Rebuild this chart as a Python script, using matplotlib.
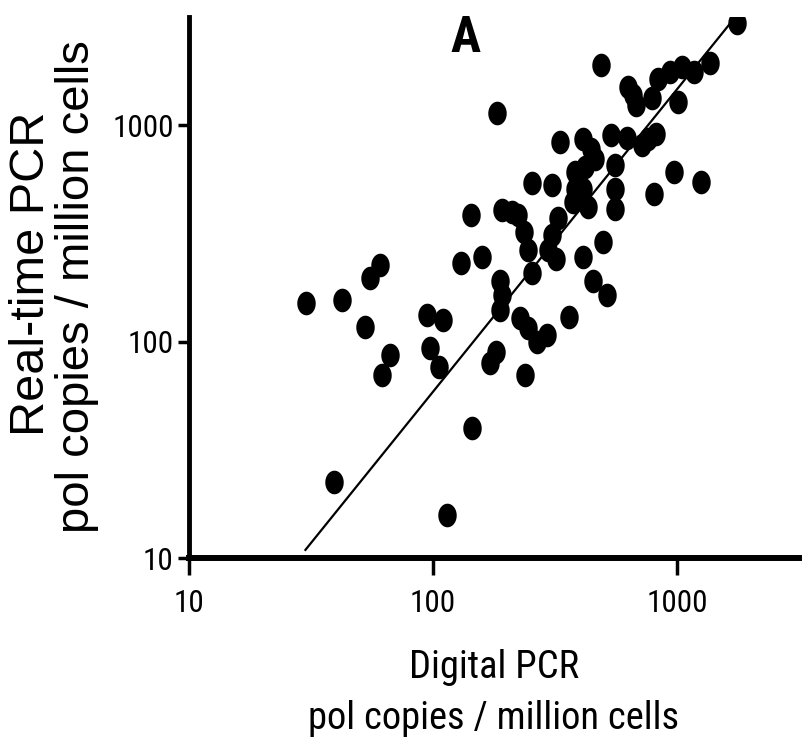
import numpy as np
import matplotlib
matplotlib.use("Agg")
from matplotlib import pyplot as plt
from matplotlib import font_manager
from matplotlib.ticker import NullLocator

# Digital PCR (x) vs real-time PCR (y), pol copies / million cells
dpcr = [1760, 488, 183, 632, 681, 660, 836, 935, 1045, 1170, 1360, 1007, 791,
        535, 621, 721, 821, 760, 330, 412, 444, 461, 383, 383, 375, 420, 412,
        430, 555, 555, 555, 254, 306, 971, 1259, 806, 143, 192, 210, 223, 236,
        245, 254, 324, 306, 296, 497, 130, 159, 318, 412, 188, 192, 188, 451,
        515, 30.1, 42.4, 55, 60.5, 52.5, 66.4, 61.6, 94.6, 110, 97, 106, 227,
        245, 268, 294, 361, 181, 172, 238, 144, 39.4, 114]
rtpcr = [2960, 1890, 1140, 1500, 1240, 1380, 1640, 1760, 1860, 1760, 1930, 1280,
         1330, 900, 870, 810, 915, 860, 837, 867, 780, 700, 608, 509, 443, 640,
         509, 420, 653, 509, 412, 538, 532, 608, 547, 483, 384, 405, 395, 384,
         321, 265, 207, 371, 310, 265, 289, 232, 247, 242, 245, 190, 164, 140,
         190, 164, 150, 156, 196, 226, 117, 86.7, 70.2, 133, 126, 93, 76.7, 128,
         115, 100, 107, 130, 90, 79.4, 70.2, 39.8, 22.5, 15.8]

# regression line end points
fit_x = [30, 1670]
fit_y = [10.9, 3000]

tick_vals = [10, 100, 1000]
tick_text = ["10", "100", "1000"]

names = {f.name for f in font_manager.fontManager.ttflist}
narrow = "Liberation Sans"
for cand in ["Liberation Sans Narrow", "Roboto Condensed", "Open Sans Condensed",
             "Noto Sans Condensed"]:
    if cand in names:
        narrow = cand
        break
plt.rcParams["font.family"] = ["Liberation Sans", "DejaVu Sans"]

W, H = 802, 737
fig = plt.figure(figsize=(W / 100, H / 100), dpi=100)
ax = fig.add_axes([189 / W, 1 - 558 / H, 610 / W, 541 / H])

# slightly tall ellipse marker, like the scanned dots
t = np.linspace(0, 2 * np.pi, 40)
dot = np.column_stack([0.78 * np.cos(t), np.sin(t)])

ax.plot(fit_x, fit_y, color="black", lw=1.6, zorder=2)
ax.scatter(dpcr, rtpcr, s=290, marker=dot, color="black", linewidths=0, zorder=3)

ax.set_xscale("log")
ax.set_yscale("log")
ax.set_xlim(10, 10 ** 3.5)
ax.set_ylim(10, 10 ** 3.5)
ax.xaxis.set_minor_locator(NullLocator())
ax.yaxis.set_minor_locator(NullLocator())

ax.set_xticks(tick_vals)
ax.set_xticklabels(tick_text)
ax.set_yticks(tick_vals)
ax.set_yticklabels(tick_text)

ax.tick_params(axis="x", length=12, width=2.5, pad=10, direction="out")
ax.tick_params(axis="y", length=8, width=2.5, pad=3, direction="out")

for side in ["top", "right"]:
    ax.spines[side].set_visible(False)
ax.spines["left"].set_linewidth(3.5)
ax.spines["bottom"].set_linewidth(4.3)

# panel letter
letter = fig.text(465 / W, 1 - 52 / H, "A", family=narrow, fontsize=38,
                  fontweight="bold", ha="center", va="baseline")

# axis titles
xl1 = fig.text(494 / W, 1 - 678 / H, "Digital PCR", family=narrow, fontsize=33,
               ha="center", va="baseline")
xl2 = fig.text(494 / W, 1 - 729 / H, "pol copies / million cells", family=narrow,
               fontsize=33, ha="center", va="baseline")
fig.text(32 / W, 1 - 274 / H, "Real-time PCR", fontsize=35, rotation=90,
         ha="center", va="center")
fig.text(77 / W, 1 - 287 / H, "pol copies / million cells", fontsize=34,
         rotation=90, ha="center", va="center")

# the scan is squeezed sideways: size horizontal texts by their width
fig.canvas.draw()
r = fig.canvas.get_renderer()


def fit_width(txt, width_px, extra=()):
    k = width_px / txt.get_window_extent(r).width
    size = txt.get_fontsize() * k
    for item in (txt,) + tuple(extra):
        item.set_fontsize(size)


fit_width(xl2, 371, (xl1,))
fit_width(letter, 30)

ticklabs = ax.get_xticklabels() + ax.get_yticklabels()
for lab in ticklabs:
    lab.set_family(narrow)
    lab.set_fontsize(24)
fig.canvas.draw()
fit_width(ax.get_yticklabels()[2], 62, tuple(ticklabs))

fig.savefig("out.png", dpi=100)
